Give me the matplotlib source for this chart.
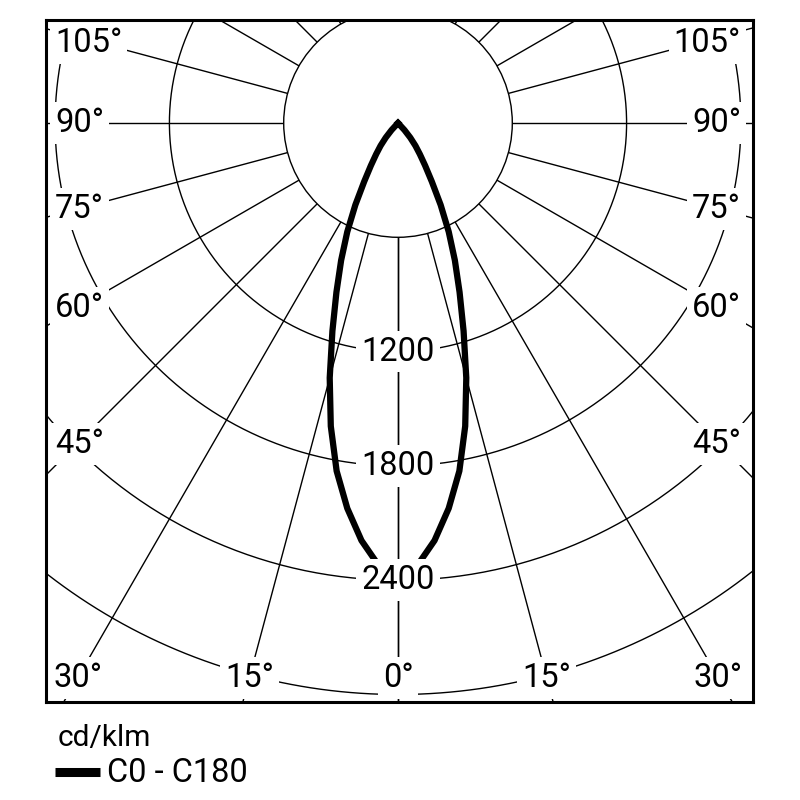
import numpy as np
import matplotlib
matplotlib.use("Agg")
import matplotlib.pyplot as plt
from matplotlib.patches import Circle
from matplotlib.lines import Line2D

plt.rcParams["font.family"] = ["Roboto", "DejaVu Sans"]

# Luminous intensity curve C0 - C180 (cd/klm), symmetric
angles_deg = [0, 2.5, 5, 7.5, 10, 12.5, 15, 17.5, 20, 22.5, 25, 27.5, 30, 32.5, 35, 37.5, 40, 42.5, 45]
intensity = [2365, 2325, 2200, 2040, 1855, 1630, 1385, 1145, 945, 780, 630, 485, 355, 265, 200, 150, 100, 50, 0]

# Grid
ring_values = [600, 1200, 1800, 2400, 3000, 3600]
ring_labels = [1200, 1800, 2400]
ray_angles = list(range(0, 181, 15))
side_label_angles = [45, 60, 75, 90, 105]
bottom_label_angles = [0, 15, 30]

# Layout (pixels of an 800x800 canvas)
W = 800
cx, cy = 398, 123          # pole of the diagram
scale = 0.1905             # px per cd/klm
frame_l, frame_r, frame_t, frame_b = 45.5, 753, 20, 702
fs = 23.5

fig = plt.figure(figsize=(8, 8), dpi=100)
ax = fig.add_axes([frame_l / W, 1 - frame_b / W, (frame_r - frame_l) / W, (frame_b - frame_t) / W])
ax.set_xlim((frame_l - cx) / scale, (frame_r - cx) / scale)
ax.set_ylim((cy - frame_b) / scale, (cy - frame_t) / scale)
ax.set_xticks([])
ax.set_yticks([])
for sp in ax.spines.values():
    sp.set_linewidth(2.2)
    sp.set_zorder(10)

# radial lines
for a in ray_angles:
    t = np.radians(a)
    for sgn in (1, -1):
        ax.plot([sgn * 600 * np.sin(t), sgn * 6000 * np.sin(t)],
                [-600 * np.cos(t), -6000 * np.cos(t)],
                color="black", lw=1.0, zorder=1)

# rings
phi = np.linspace(0, 2 * np.pi, 720)
for v in ring_values[1:]:
    ax.plot(v * np.sin(phi), v * np.cos(phi), color="black", lw=1.0, zorder=1)
ax.add_patch(Circle((0, 0), ring_values[0], facecolor="white", edgecolor="black", lw=1.0, zorder=2))

# curve
th = np.radians(angles_deg)
I = np.array(intensity)
x = I * np.sin(th)
y = -I * np.cos(th)
xs = np.concatenate([-x[::-1], x[1:]])
ys = np.concatenate([y[::-1], y[1:]])
ax.plot(xs, ys, color="black", lw=4.5, zorder=3, solid_joinstyle="miter")

box = dict(boxstyle="square,pad=0.15", facecolor="white", edgecolor="none")

# intensity labels
for v in ring_labels:
    ax.text(0, -v, str(v), ha="center", va="center", fontsize=fs, bbox=box, zorder=5)

# angle labels on the sides
side_edge = (cx - 55) / scale
side_mid = (cx - 77) / scale
for a in side_label_angles:
    t = np.radians(a)
    r = side_mid / np.sin(t)
    yy = -r * np.cos(t)
    if a > 90:
        yy -= 6 / scale
    ax.text(-side_edge, yy, f"{a}°", ha="left", va="center", fontsize=fs, bbox=box, zorder=5)
    ax.text(side_edge, yy, f"{a}°", ha="right", va="center", fontsize=fs, bbox=box, zorder=5)

# angle labels at the bottom
bottom_y = (678 - cy) / scale
for a in bottom_label_angles:
    t = np.radians(a)
    xx = bottom_y * np.tan(t)
    for sgn in ((1,) if a == 0 else (1, -1)):
        ax.text(sgn * xx, -bottom_y, f"{a}°", ha="center", va="center", fontsize=fs, bbox=box, zorder=5)

# legend
fig.text(58 / W, 1 - 745.7 / W, "cd/klm", fontsize=21.5, va="baseline")
fig.add_artist(Line2D([55 / W, 100 / W], [1 - 772 / W] * 2, lw=6.5, color="black", solid_capstyle="butt"))
fig.text(107 / W, 1 - 781.7 / W, "C0 - C180", fontsize=fs, va="baseline")

fig.savefig("out.png", dpi=100)
